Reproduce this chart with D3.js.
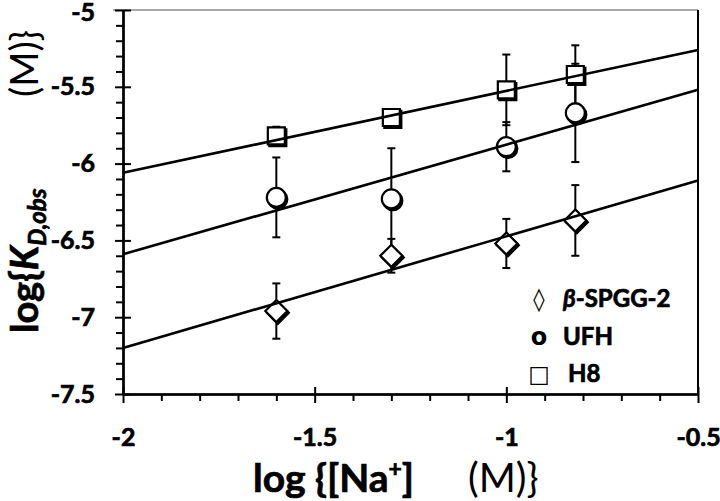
<!DOCTYPE html>
<html>
<head>
<meta charset="utf-8">
<script src="https://cdn.jsdelivr.net/npm/d3@7"></script>
<style>
  body { margin: 0; background: #fff; }
  svg { display: block; font-family: Lato, "Open Sans", sans-serif; }
</style>
</head>
<body>
<script>
// data
var naLog = [-1.6, -1.3, -1.0, -0.82];
var h8 = [-5.82, -5.70, -5.52, -5.42];
var h8Err = [0.06, 0.04, 0.23, 0.19];
var ufh = [-6.22, -6.23, -5.89, -5.67];
var ufhErr = [0.26, 0.33, 0.16, 0.32];
var spgg = [-6.96, -6.60, -6.52, -6.37];
var spggErr = [0.18, 0.11, 0.16, 0.23];
// linear fits, given at the two ends of the x range
var fitX = [-2, -0.5];
var h8Fit = [-6.06, -5.26];
var ufhFit = [-6.59, -5.52];
var spggFit = [-7.20, -6.11];

var xTicks = [-2, -1.5, -1, -0.5];
var yTicks = [-5, -5.5, -6, -6.5, -7, -7.5];

const W = 720, H = 501;
const margin = {top: 10, right: 22, bottom: 107, left: 123};

const svg = d3.select("body").append("svg")
  .attr("width", W).attr("height", H);

const x = d3.scaleLinear().domain([-2, -0.5]).range([margin.left, W - margin.right]);
const y = d3.scaleLinear().domain([-7.5, -5]).range([H - margin.bottom, margin.top]);

const x0 = x(-2), x1 = x(-0.5), y0 = y(-7.5), y1 = y(-5);

// frame: thin top, right line
svg.append("line").attr("x1", x0 - 10).attr("x2", x1).attr("y1", y1).attr("y2", y1)
  .attr("stroke", "#555").attr("stroke-width", 1.2);
svg.append("line").attr("x1", x1).attr("x2", x1).attr("y1", y1).attr("y2", y0)
  .attr("stroke", "#000").attr("stroke-width", 2);

// minor ticks
var xMinor = d3.range(-2, -0.5001, 0.1).filter(v => Math.abs(v * 2 - Math.round(v * 2)) > 1e-6);
var yMinor = d3.range(-7.5, -4.9999, 0.1).filter(v => Math.abs(v * 2 - Math.round(v * 2)) > 1e-6);

function styleAxis(g) {
  g.select(".domain").attr("stroke", "#000").attr("stroke-width", 2);
  g.selectAll(".tick line").attr("stroke", "#000").attr("stroke-width", 2);
}

svg.append("g").attr("transform", `translate(0,${y0})`)
  .call(d3.axisBottom(x).tickValues(xMinor).tickSize(7).tickFormat("").tickSizeOuter(0))
  .call(styleAxis);
svg.append("g").attr("transform", `translate(${x0},0)`)
  .call(d3.axisLeft(y).tickValues(yMinor).tickSize(7).tickFormat("").tickSizeOuter(0))
  .call(styleAxis);

// major ticks cross the axis
svg.append("g").attr("transform", `translate(0,${y0})`)
  .call(d3.axisTop(x).tickValues(xTicks).tickSize(7).tickFormat("").tickSizeOuter(0))
  .call(styleAxis);
svg.append("g").attr("transform", `translate(${x0},0)`)
  .call(d3.axisRight(y).tickValues(yTicks).tickSize(8).tickFormat("").tickSizeOuter(0))
  .call(styleAxis);

function boldText(sel, size) {
  sel.attr("font-family", "Lato, sans-serif").attr("font-weight", "bold")
    .attr("font-size", size).attr("fill", "#000")
    .attr("stroke", "#000").attr("stroke-width", 0.7);
}

const xAxis = svg.append("g").attr("transform", `translate(0,${y0})`)
  .call(d3.axisBottom(x).tickValues(xTicks).tickSize(9).tickPadding(25).tickSizeOuter(0)
    .tickFormat(d => String(d)))
  .call(styleAxis);
xAxis.selectAll("text").call(boldText, 25);

const yAxis = svg.append("g").attr("transform", `translate(${x0},0)`)
  .call(d3.axisLeft(y).tickValues(yTicks).tickSize(8).tickPadding(20).tickSizeOuter(0)
    .tickFormat(d => String(d)))
  .call(styleAxis);
yAxis.selectAll("text").call(boldText, 25);
// keep the top label inside the page
yAxis.selectAll(".tick text").filter(d => d === -5).attr("dy", "0.4em");

// series
var series = [
  {name: "spgg", vals: spgg, err: spggErr, fit: spggFit, shape: "diamond"},
  {name: "ufh", vals: ufh, err: ufhErr, fit: ufhFit, shape: "circle"},
  {name: "h8", vals: h8, err: h8Err, fit: h8Fit, shape: "square"}
];

// error bars
series.forEach(function(s) {
  var g = svg.append("g").attr("class", "err-" + s.name);
  naLog.forEach(function(xv, i) {
    var top = y(s.vals[i] + s.err[i]), bot = y(s.vals[i] - s.err[i]), cx = x(xv);
    g.append("line").attr("x1", cx).attr("x2", cx).attr("y1", top).attr("y2", bot)
      .attr("stroke", "#000").attr("stroke-width", 2);
    [top, bot].forEach(function(yy) {
      g.append("line").attr("x1", cx - 4).attr("x2", cx + 4).attr("y1", yy).attr("y2", yy)
        .attr("stroke", "#000").attr("stroke-width", 2);
    });
  });
});

function markerPath(shape) {
  if (shape === "square") return "M-8.5,-8.5H8.5V8.5H-8.5Z";
  if (shape === "diamond") return "M0,-11L11,0L0,11L-11,0Z";
  return d3.arc()({innerRadius: 0, outerRadius: 9.5, startAngle: 0, endAngle: 2 * Math.PI});
}

// markers, with a dark offset giving the heavier bottom-right edge
series.forEach(function(s) {
  var g = svg.append("g").attr("class", "pts-" + s.name);
  naLog.forEach(function(xv, i) {
    var t = `translate(${x(xv)},${y(s.vals[i])})`;
    g.append("path").attr("d", markerPath(s.shape))
      .attr("transform", t + " translate(1.5,1.8)")
      .attr("fill", "#000").attr("stroke", "#000").attr("stroke-width", 2.2);
    g.append("path").attr("d", markerPath(s.shape)).attr("transform", t)
      .attr("fill", "#fff").attr("stroke", "#000").attr("stroke-width", 2.2);
  });
});

// fit lines drawn on top
const line = d3.line().x(d => x(d[0])).y(d => y(d[1]));
series.forEach(function(s) {
  svg.append("path").datum(fitX.map((v, i) => [v, s.fit[i]]))
    .attr("d", line).attr("fill", "none").attr("stroke", "#000").attr("stroke-width", 2.6);
});

// legend
var legendLabels = ["-SPGG-2", "UFH", "H8"];
var legendSymbols = ["\u25CA", "o", "\u25A1"];
var legendY = [307, 345, 382];
legendLabels.forEach(function(lab, i) {
  svg.append("text").attr("x", 539).attr("y", legendY[i]).attr("text-anchor", "middle")
    .attr("font-family", "'DejaVu Sans', sans-serif").attr("font-size", i === 1 ? 24 : 23)
    .attr("font-weight", i === 1 ? "bold" : "normal")
    .text(legendSymbols[i]);
  var t = svg.append("text").attr("x", i === 2 ? 568 : 563).attr("y", legendY[i])
    .call(boldText, 24);
  if (i === 0) t.append("tspan").attr("font-style", "italic").text("\u03B2");
  t.append("tspan").text(lab);
});

// x axis title
const xt = svg.append("text").attr("x", 253).attr("y", 492).call(boldText, 39);
xt.append("tspan").text("log {[Na");
xt.append("tspan").attr("font-size", 23).attr("dy", -15).text("+");
xt.append("tspan").attr("dy", 15).text("]");
svg.append("text").attr("x", 468).attr("y", 492)
  .attr("font-family", "Lato, sans-serif").attr("font-size", 40).text("(M)}");

// y axis title
const yt = svg.append("text").attr("transform", "translate(38,333) rotate(-90)").call(boldText, 38);
yt.append("tspan").text("log{");
yt.append("tspan").attr("font-style", "italic").text("K");
yt.append("tspan").attr("font-style", "italic").attr("font-size", 24).attr("dy", 8).text("D,obs");
svg.append("text").attr("transform", "translate(38,97) rotate(-90)")
  .attr("font-family", "Lato, sans-serif").attr("font-size", 38).text("(M)}");
</script>
</body>
</html>
